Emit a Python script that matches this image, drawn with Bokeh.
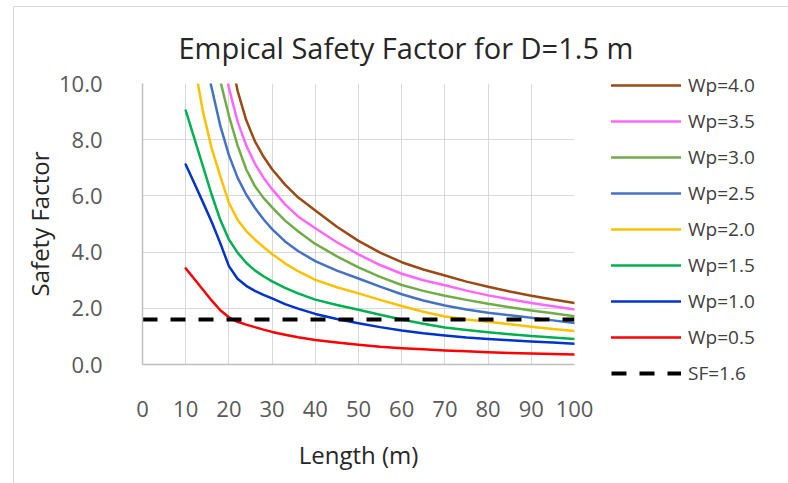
from bokeh.plotting import figure
from bokeh.models import Range1d, FixedTicker, NumeralTickFormatter, Legend, LegendItem
from bokeh.embed import file_html
from bokeh.resources import INLINE

# ---- data ----
length = [10, 12, 14, 16, 18, 20, 22, 24, 26, 28, 30, 33, 36, 40, 45, 50, 55, 60, 65, 70, 75, 80, 85, 90, 95, 100]

sf_wp05 = [3.42, 3.04, 2.66, 2.28, 1.93, 1.68, 1.52, 1.42, 1.33, 1.24, 1.16, 1.06, 0.97, 0.87, 0.78, 0.70, 0.63, 0.58, 0.54, 0.50, 0.47, 0.44, 0.41, 0.39, 0.37, 0.36]
sf_wp10 = [7.12, 6.45, 5.77, 5.08, 4.32, 3.50, 3.05, 2.80, 2.62, 2.48, 2.35, 2.15, 1.99, 1.80, 1.62, 1.47, 1.33, 1.21, 1.11, 1.03, 0.96, 0.91, 0.86, 0.82, 0.78, 0.74]
sf_wp15 = [9.04, 8.05, 7.05, 6.05, 5.15, 4.45, 3.98, 3.62, 3.35, 3.14, 2.96, 2.73, 2.53, 2.31, 2.12, 1.95, 1.77, 1.60, 1.45, 1.32, 1.23, 1.15, 1.08, 1.01, 0.96, 0.91]
sf_wp20 = [12.5, 10.7, 9.00, 7.70, 6.70, 5.75, 5.15, 4.75, 4.45, 4.18, 3.93, 3.60, 3.32, 3.01, 2.75, 2.53, 2.30, 2.08, 1.88, 1.71, 1.60, 1.52, 1.43, 1.34, 1.26, 1.19]
sf_wp25 = [15.0, 13.0, 11.2, 9.85, 8.50, 7.45, 6.65, 6.05, 5.58, 5.17, 4.82, 4.38, 4.04, 3.68, 3.34, 3.06, 2.77, 2.50, 2.28, 2.10, 1.96, 1.84, 1.75, 1.66, 1.57, 1.48]
sf_wp30 = [17.0, 15.0, 13.2, 11.6, 10.1, 8.85, 7.80, 6.95, 6.35, 5.93, 5.59, 5.12, 4.74, 4.29, 3.85, 3.46, 3.12, 2.83, 2.62, 2.45, 2.30, 2.16, 2.04, 1.92, 1.82, 1.72]
sf_wp35 = [19.0, 17.0, 15.0, 13.1, 11.4, 9.85, 8.65, 7.80, 7.15, 6.65, 6.24, 5.70, 5.27, 4.85, 4.35, 3.92, 3.54, 3.23, 3.00, 2.82, 2.63, 2.46, 2.32, 2.19, 2.07, 1.96]
sf_wp40 = [21.0, 19.0, 17.0, 15.0, 13.1, 11.3, 9.75, 8.70, 7.95, 7.40, 6.95, 6.40, 5.95, 5.48, 4.90, 4.40, 3.98, 3.64, 3.38, 3.17, 2.95, 2.77, 2.60, 2.45, 2.31, 2.19]

sf_limit_x = [0, 100]
sf_limit_y = [1.6, 1.6]

series_names = ["Wp=4.0", "Wp=3.5", "Wp=3.0", "Wp=2.5", "Wp=2.0", "Wp=1.5", "Wp=1.0", "Wp=0.5"]
series_values = [sf_wp40, sf_wp35, sf_wp30, sf_wp25, sf_wp20, sf_wp15, sf_wp10, sf_wp05]
series_colors = ["#9C4A14", "#FF66FF", "#70AD47", "#4472C4", "#FFC000", "#00B050", "#0033CC", "#FF0000"]
limit_name = "SF=1.6"

x_ticks = [0, 10, 20, 30, 40, 50, 60, 70, 80, 90, 100]
y_ticks = [0, 2, 4, 6, 8, 10]

FONT = "Open Sans"

p = figure(frame_width=432, frame_height=281, output_backend="svg", toolbar_location=None,
           x_range=Range1d(0, 100), y_range=Range1d(0, 10),
           min_border_left=128, min_border_right=214, min_border_top=76, min_border_bottom=119)
p.styles = {"margin-left": "13px", "margin-top": "6px",
            "border-left": "1px solid #D9D9D9", "border-top": "1px solid #D9D9D9"}

p.outline_line_color = None
p.background_fill_color = "white"
p.border_fill_color = "white"

# title
p.title.text = "Empical Safety Factor for D=1.5 m"
p.title.align = "left"
p.title.offset = 36
p.title.text_font = FONT
p.title.text_font_size = "29px"
p.title.text_font_style = "normal"
p.title.text_color = "#262626"
p.title.text_line_height = 0.75
p.title.standoff = 34

# grid
p.xgrid.ticker = FixedTicker(ticks=x_ticks)
p.ygrid.ticker = FixedTicker(ticks=y_ticks)
p.grid.grid_line_color = "#D9D9D9"
p.grid.grid_line_width = 1

# axes
for ax in (p.xaxis[0], p.yaxis[0]):
    ax.axis_line_color = "#BFBFBF"
    ax.axis_line_width = 1.5
    ax.major_tick_line_color = None
    ax.minor_tick_line_color = None
    ax.major_label_text_font = FONT
    ax.major_label_text_font_size = "22px"
    ax.major_label_text_color = "#595959"
    ax.axis_label_text_font = FONT
    ax.axis_label_text_font_size = "24px"
    ax.axis_label_text_font_style = "normal"
    ax.axis_label_text_color = "#262626"

p.xaxis.ticker = FixedTicker(ticks=x_ticks)
p.yaxis.ticker = FixedTicker(ticks=y_ticks)
p.yaxis.formatter = NumeralTickFormatter(format="0.0")
p.xaxis.axis_label = "Length (m)"
p.yaxis.axis_label = "Safety Factor"
p.xaxis.major_label_standoff = 30
p.yaxis.major_label_standoff = 34
p.xaxis.axis_label_standoff = 18
p.yaxis.axis_label_standoff = 0

items = []
for name, vals, col in zip(series_names, series_values, series_colors):
    r = p.line(length, vals, line_color=col, line_width=2.5, line_join="round", line_cap="round")
    items.append(LegendItem(label=name, renderers=[r]))

rl = p.line(sf_limit_x, sf_limit_y, line_color="black", line_width=4, line_dash="15 13")
items.append(LegendItem(label=limit_name, renderers=[rl]))

legend = Legend(items=items, location=(37, -22))
legend.background_fill_alpha = 0
legend.border_line_color = None
legend.padding = 0
legend.margin = 0
legend.spacing = 10
legend.glyph_width = 70
legend.glyph_height = 26
legend.label_height = 26
legend.label_standoff = 7
legend.label_text_font = FONT
legend.label_text_font_size = "19px"
legend.label_text_color = "#404040"
p.add_layout(legend, "right")

open("out.html", "w").write(file_html(p, INLINE))
